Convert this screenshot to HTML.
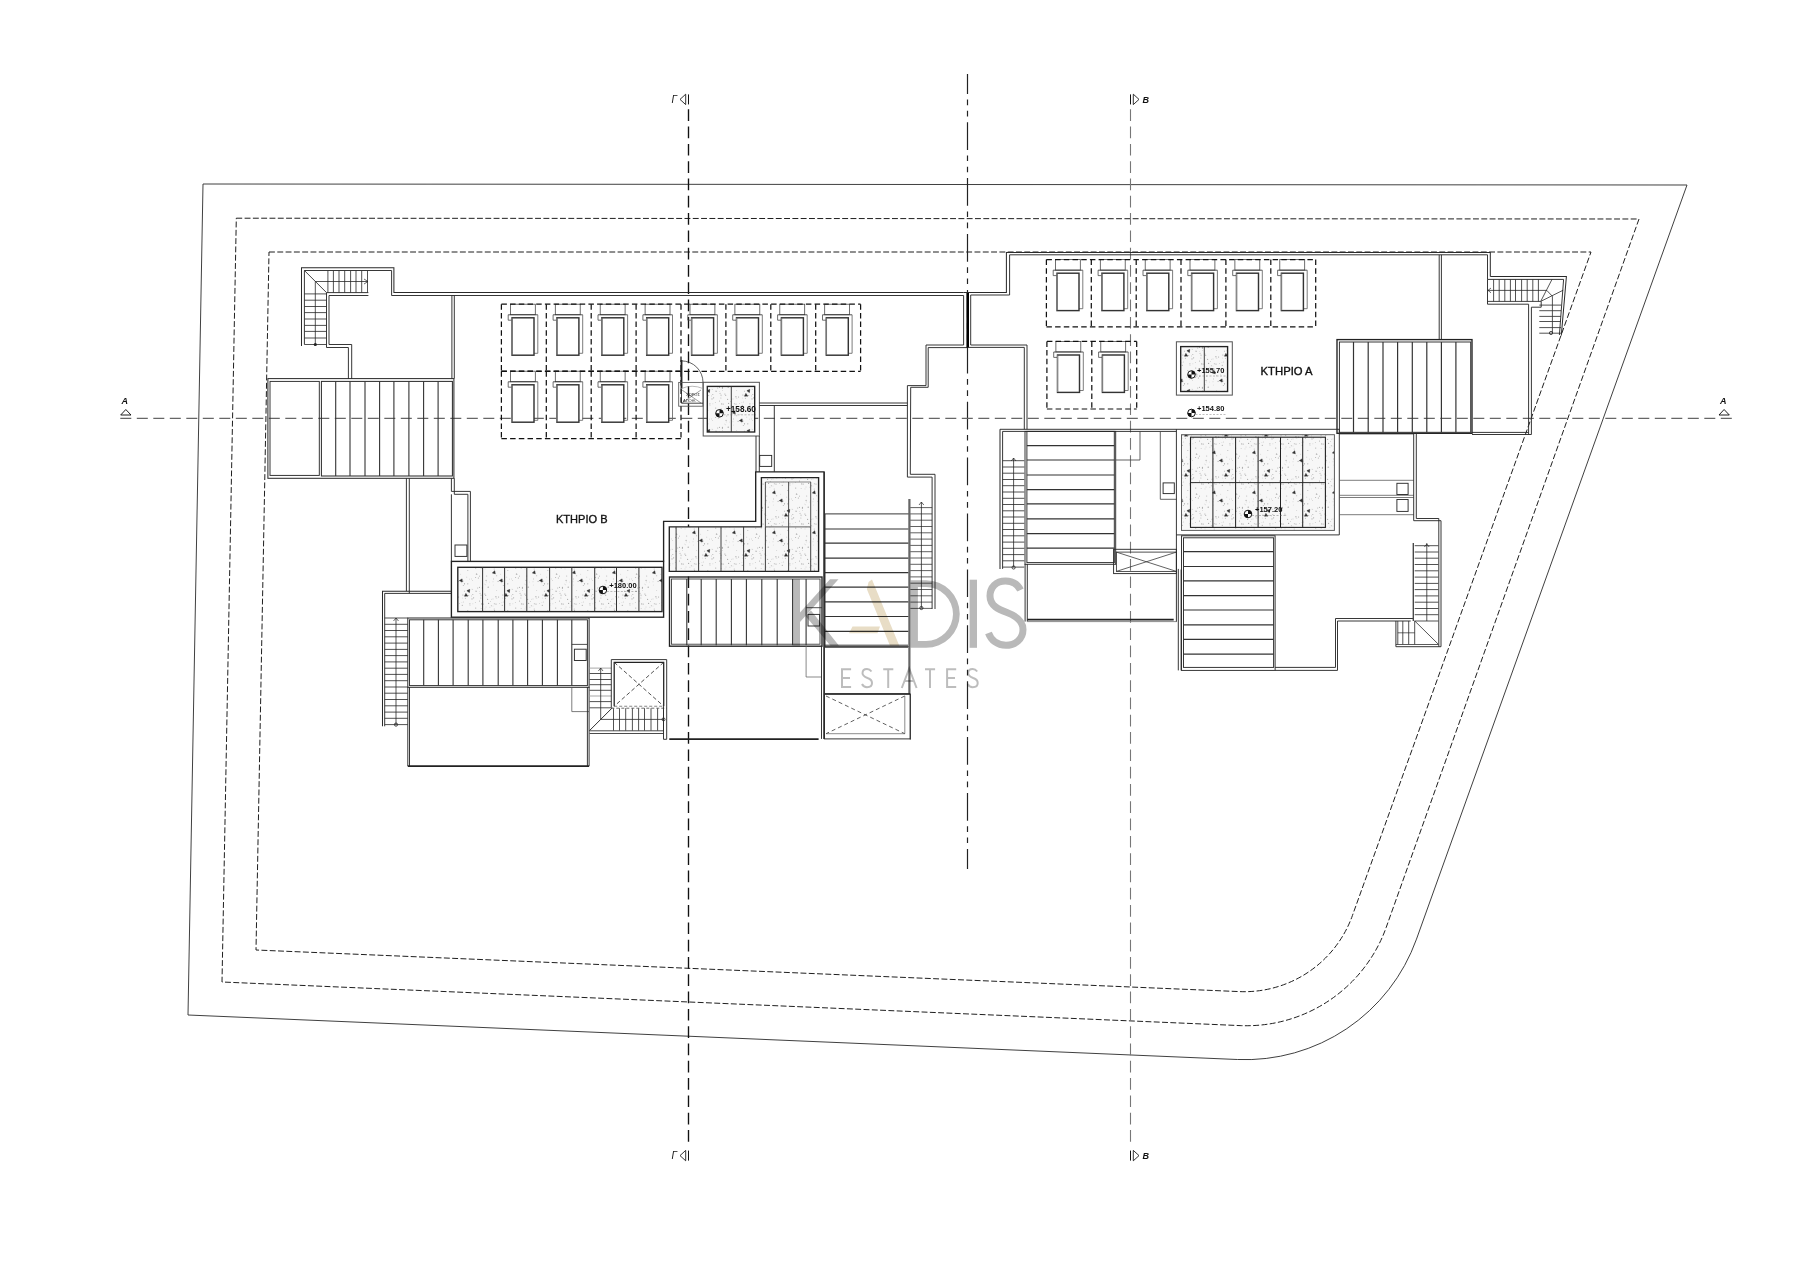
<!DOCTYPE html>
<html><head><meta charset="utf-8"><style>
html,body{margin:0;padding:0;background:#fff;width:1819px;height:1270px;overflow:hidden}
svg{display:block;font-family:"Liberation Sans",sans-serif}
</style></head><body>
<svg width="1819" height="1270" viewBox="0 0 1819 1270">
<rect width="1819" height="1270" fill="#fff"/>
<path d="M203,184 L1687,185 L1416.5,939.1 A182,182 0 0 1 1237.4,1059.5 L188,1015 Z" fill="none" stroke="#333" stroke-width="0.94"/>
<path d="M236.3,218.2 L1639,219 L1386.3,927.1 A148.5,148.5 0 0 1 1240.1,1025.6 L222,982 Z" fill="none" stroke="#1a1a1a" stroke-width="0.98" stroke-dasharray="5.9 2.4"/>
<path d="M269,252 L1591,252 L1352.4,915.6 A115,115 0 0 1 1239.4,991.6 L256,950 Z" fill="none" stroke="#1a1a1a" stroke-width="0.98" stroke-dasharray="5.9 2.4"/>
<line x1="688.5" y1="109.3" x2="688.5" y2="1147.0" stroke="#111" stroke-width="1.36" stroke-dasharray="11.7 5.6"/>
<line x1="1130.5" y1="109.3" x2="1130.5" y2="1147.0" stroke="#777" stroke-width="1.10" stroke-dasharray="11.7 5.6"/>
<line x1="967.5" y1="74.0" x2="967.5" y2="869.0" stroke="#222" stroke-width="1.19" stroke-dasharray="27.7 5.6 5.6 5.6 5.6 5.8" stroke-dashoffset="7.7"/>
<line x1="120.3" y1="418.3" x2="1732.0" y2="418.3" stroke="#666" stroke-width="1.27" stroke-dasharray="11 5.5"/>
<polyline points="301.5,346.0 301.5,267.8 393.9,267.8 393.9,292.6 963.6,292.6" fill="none" stroke="#2a2a2a" stroke-width="1.02"/>
<polyline points="304.4,344.5 304.4,270.5 391.6,270.5 391.6,295.5 963.6,295.5 963.6,345.0 926.0,345.0 926.0,385.6 907.4,385.6 907.4,477.1 932.1,477.1 932.1,609.0" fill="none" stroke="#2a2a2a" stroke-width="0.94"/>
<polyline points="967.0,347.6 928.2,347.6 928.2,387.3 910.7,387.3 910.3,474.3 935.0,474.3 935.0,609.0" fill="none" stroke="#2a2a2a" stroke-width="0.94"/>
<line x1="967.7" y1="292.0" x2="967.7" y2="347.6" stroke="#000" stroke-width="2.55"/>
<line x1="327.9" y1="270.5" x2="327.9" y2="292.6" stroke="#333" stroke-width="0.85"/>
<line x1="333.4" y1="270.5" x2="333.4" y2="292.6" stroke="#333" stroke-width="0.85"/>
<line x1="339.0" y1="270.5" x2="339.0" y2="292.6" stroke="#333" stroke-width="0.85"/>
<line x1="344.7" y1="270.5" x2="344.7" y2="292.6" stroke="#333" stroke-width="0.85"/>
<line x1="350.6" y1="270.5" x2="350.6" y2="292.6" stroke="#333" stroke-width="0.85"/>
<line x1="356.0" y1="270.5" x2="356.0" y2="292.6" stroke="#333" stroke-width="0.85"/>
<line x1="361.7" y1="270.5" x2="361.7" y2="292.6" stroke="#333" stroke-width="0.85"/>
<line x1="367.5" y1="270.5" x2="367.5" y2="292.6" stroke="#333" stroke-width="0.85"/>
<line x1="304.4" y1="270.5" x2="326.5" y2="292.6" stroke="#222" stroke-width="0.85"/>
<line x1="315.3" y1="281.5" x2="368.0" y2="281.5" stroke="#222" stroke-width="0.77"/>
<path d="M364,279 L368,281.5 L364,284" fill="none" stroke="#222" stroke-width="0.68"/>
<line x1="304.4" y1="293.9" x2="326.5" y2="293.9" stroke="#333" stroke-width="0.85"/>
<line x1="304.4" y1="300.2" x2="326.5" y2="300.2" stroke="#333" stroke-width="0.85"/>
<line x1="304.4" y1="306.5" x2="326.5" y2="306.5" stroke="#333" stroke-width="0.85"/>
<line x1="304.4" y1="312.6" x2="326.5" y2="312.6" stroke="#333" stroke-width="0.85"/>
<line x1="304.4" y1="319.0" x2="326.5" y2="319.0" stroke="#333" stroke-width="0.85"/>
<line x1="304.4" y1="325.4" x2="326.5" y2="325.4" stroke="#333" stroke-width="0.85"/>
<line x1="304.4" y1="331.4" x2="326.5" y2="331.4" stroke="#333" stroke-width="0.85"/>
<line x1="304.4" y1="338.0" x2="326.5" y2="338.0" stroke="#333" stroke-width="0.85"/>
<line x1="304.4" y1="344.5" x2="326.5" y2="344.5" stroke="#333" stroke-width="0.85"/>
<line x1="315.3" y1="281.5" x2="315.3" y2="344.5" stroke="#222" stroke-width="0.77"/>
<circle cx="315.3" cy="344.5" r="1.6" fill="#222"/>
<polyline points="368.4,292.6 326.5,292.6 326.5,347.5 348.4,347.5 348.4,379.0" fill="none" stroke="#2a2a2a" stroke-width="0.94"/>
<polyline points="368.4,295.5 329.0,295.5 329.0,344.5 351.7,344.5 351.7,379.0" fill="none" stroke="#2a2a2a" stroke-width="0.94"/>
<line x1="451.9" y1="295.5" x2="451.9" y2="378.6" stroke="#2a2a2a" stroke-width="0.94"/>
<line x1="454.3" y1="295.5" x2="454.3" y2="378.6" stroke="#2a2a2a" stroke-width="0.94"/>
<rect x="267.9" y="378.6" width="186.0" height="99.7" fill="none" stroke="#2a2a2a" stroke-width="1.02"/>
<rect x="270.0" y="381.4" width="49.3" height="94.0" fill="none" stroke="#2a2a2a" stroke-width="0.94"/>
<rect x="321.4" y="381.4" width="131.0" height="94.6" fill="none" stroke="#2a2a2a" stroke-width="1.02"/>
<line x1="335.7" y1="381.4" x2="335.7" y2="476.0" stroke="#333" stroke-width="1.10"/>
<line x1="350.0" y1="381.4" x2="350.0" y2="476.0" stroke="#333" stroke-width="1.10"/>
<line x1="365.0" y1="381.4" x2="365.0" y2="476.0" stroke="#333" stroke-width="1.10"/>
<line x1="379.6" y1="381.4" x2="379.6" y2="476.0" stroke="#333" stroke-width="1.10"/>
<line x1="393.9" y1="381.4" x2="393.9" y2="476.0" stroke="#333" stroke-width="1.10"/>
<line x1="408.9" y1="381.4" x2="408.9" y2="476.0" stroke="#333" stroke-width="1.10"/>
<line x1="423.6" y1="381.4" x2="423.6" y2="476.0" stroke="#333" stroke-width="1.10"/>
<line x1="438.1" y1="381.4" x2="438.1" y2="476.0" stroke="#333" stroke-width="1.10"/>
<line x1="406.4" y1="478.3" x2="406.4" y2="591.2" stroke="#2a2a2a" stroke-width="0.94"/>
<line x1="409.3" y1="478.3" x2="409.3" y2="593.4" stroke="#2a2a2a" stroke-width="0.94"/>
<polyline points="451.4,478.3 451.4,491.4 470.4,491.4 470.4,561.4" fill="none" stroke="#2a2a2a" stroke-width="0.94"/>
<polyline points="454.3,478.3 454.3,494.3 467.9,494.3 467.9,561.4" fill="none" stroke="#2a2a2a" stroke-width="0.94"/>
<line x1="451.4" y1="494.3" x2="451.4" y2="561.4" stroke="#2a2a2a" stroke-width="0.94"/>
<rect x="455.0" y="545.0" width="11.9" height="11.4" fill="none" stroke="#2a2a2a" stroke-width="0.94"/>
<rect x="510.4" y="304.2" width="24.9" height="10.5" fill="none" stroke="#444" stroke-width="0.77"/>
<line x1="508.2" y1="314.8" x2="537.8" y2="314.8" stroke="#333" stroke-width="0.85"/>
<polyline points="508.2,314.8 508.2,320.2 512.0,320.2" fill="none" stroke="#444" stroke-width="0.77"/>
<polyline points="537.8,314.8 537.8,353.3 534.0,353.3" fill="none" stroke="#666" stroke-width="0.85"/>
<rect x="512.0" y="317.8" width="22.0" height="37.4" fill="#fff" stroke="#333" stroke-width="1.44"/>
<line x1="512.0" y1="318.2" x2="512.0" y2="354.8" stroke="#888" stroke-width="1.02"/>
<rect x="555.3" y="304.2" width="24.9" height="10.5" fill="none" stroke="#444" stroke-width="0.77"/>
<line x1="553.1" y1="314.8" x2="582.7" y2="314.8" stroke="#333" stroke-width="0.85"/>
<polyline points="553.1,314.8 553.1,320.2 556.9,320.2" fill="none" stroke="#444" stroke-width="0.77"/>
<polyline points="582.7,314.8 582.7,353.3 578.9,353.3" fill="none" stroke="#666" stroke-width="0.85"/>
<rect x="556.9" y="317.8" width="22.0" height="37.4" fill="#fff" stroke="#333" stroke-width="1.44"/>
<line x1="556.9" y1="318.2" x2="556.9" y2="354.8" stroke="#888" stroke-width="1.02"/>
<rect x="600.2" y="304.2" width="24.9" height="10.5" fill="none" stroke="#444" stroke-width="0.77"/>
<line x1="598.0" y1="314.8" x2="627.6" y2="314.8" stroke="#333" stroke-width="0.85"/>
<polyline points="598.0,314.8 598.0,320.2 601.8,320.2" fill="none" stroke="#444" stroke-width="0.77"/>
<polyline points="627.6,314.8 627.6,353.3 623.8,353.3" fill="none" stroke="#666" stroke-width="0.85"/>
<rect x="601.8" y="317.8" width="22.0" height="37.4" fill="#fff" stroke="#333" stroke-width="1.44"/>
<line x1="601.8" y1="318.2" x2="601.8" y2="354.8" stroke="#888" stroke-width="1.02"/>
<rect x="645.1" y="304.2" width="24.9" height="10.5" fill="none" stroke="#444" stroke-width="0.77"/>
<line x1="642.9" y1="314.8" x2="672.5" y2="314.8" stroke="#333" stroke-width="0.85"/>
<polyline points="642.9,314.8 642.9,320.2 646.7,320.2" fill="none" stroke="#444" stroke-width="0.77"/>
<polyline points="672.5,314.8 672.5,353.3 668.7,353.3" fill="none" stroke="#666" stroke-width="0.85"/>
<rect x="646.7" y="317.8" width="22.0" height="37.4" fill="#fff" stroke="#333" stroke-width="1.44"/>
<line x1="646.7" y1="318.2" x2="646.7" y2="354.8" stroke="#888" stroke-width="1.02"/>
<rect x="690.0" y="304.2" width="24.9" height="10.5" fill="none" stroke="#444" stroke-width="0.77"/>
<line x1="687.8" y1="314.8" x2="717.4" y2="314.8" stroke="#333" stroke-width="0.85"/>
<polyline points="687.8,314.8 687.8,320.2 691.6,320.2" fill="none" stroke="#444" stroke-width="0.77"/>
<polyline points="717.4,314.8 717.4,353.3 713.6,353.3" fill="none" stroke="#666" stroke-width="0.85"/>
<rect x="691.6" y="317.8" width="22.0" height="37.4" fill="#fff" stroke="#333" stroke-width="1.44"/>
<line x1="691.6" y1="318.2" x2="691.6" y2="354.8" stroke="#888" stroke-width="1.02"/>
<rect x="734.9" y="304.2" width="24.9" height="10.5" fill="none" stroke="#444" stroke-width="0.77"/>
<line x1="732.7" y1="314.8" x2="762.3" y2="314.8" stroke="#333" stroke-width="0.85"/>
<polyline points="732.7,314.8 732.7,320.2 736.5,320.2" fill="none" stroke="#444" stroke-width="0.77"/>
<polyline points="762.3,314.8 762.3,353.3 758.5,353.3" fill="none" stroke="#666" stroke-width="0.85"/>
<rect x="736.5" y="317.8" width="22.0" height="37.4" fill="#fff" stroke="#333" stroke-width="1.44"/>
<line x1="736.5" y1="318.2" x2="736.5" y2="354.8" stroke="#888" stroke-width="1.02"/>
<rect x="779.8" y="304.2" width="24.9" height="10.5" fill="none" stroke="#444" stroke-width="0.77"/>
<line x1="777.6" y1="314.8" x2="807.2" y2="314.8" stroke="#333" stroke-width="0.85"/>
<polyline points="777.6,314.8 777.6,320.2 781.4,320.2" fill="none" stroke="#444" stroke-width="0.77"/>
<polyline points="807.2,314.8 807.2,353.3 803.4,353.3" fill="none" stroke="#666" stroke-width="0.85"/>
<rect x="781.4" y="317.8" width="22.0" height="37.4" fill="#fff" stroke="#333" stroke-width="1.44"/>
<line x1="781.4" y1="318.2" x2="781.4" y2="354.8" stroke="#888" stroke-width="1.02"/>
<rect x="824.7" y="304.2" width="24.9" height="10.5" fill="none" stroke="#444" stroke-width="0.77"/>
<line x1="822.5" y1="314.8" x2="852.1" y2="314.8" stroke="#333" stroke-width="0.85"/>
<polyline points="822.5,314.8 822.5,320.2 826.3,320.2" fill="none" stroke="#444" stroke-width="0.77"/>
<polyline points="852.1,314.8 852.1,353.3 848.3,353.3" fill="none" stroke="#666" stroke-width="0.85"/>
<rect x="826.3" y="317.8" width="22.0" height="37.4" fill="#fff" stroke="#333" stroke-width="1.44"/>
<line x1="826.3" y1="318.2" x2="826.3" y2="354.8" stroke="#888" stroke-width="1.02"/>
<line x1="501.4" y1="304.2" x2="501.4" y2="371.3" stroke="#111" stroke-width="1.23" stroke-dasharray="5.5 3.2"/>
<line x1="546.3" y1="304.2" x2="546.3" y2="371.3" stroke="#111" stroke-width="1.23" stroke-dasharray="5.5 3.2"/>
<line x1="591.2" y1="304.2" x2="591.2" y2="371.3" stroke="#111" stroke-width="1.23" stroke-dasharray="5.5 3.2"/>
<line x1="636.1" y1="304.2" x2="636.1" y2="371.3" stroke="#111" stroke-width="1.23" stroke-dasharray="5.5 3.2"/>
<line x1="681.0" y1="304.2" x2="681.0" y2="371.3" stroke="#111" stroke-width="1.23" stroke-dasharray="5.5 3.2"/>
<line x1="725.9" y1="304.2" x2="725.9" y2="371.3" stroke="#111" stroke-width="1.23" stroke-dasharray="5.5 3.2"/>
<line x1="770.8" y1="304.2" x2="770.8" y2="371.3" stroke="#111" stroke-width="1.23" stroke-dasharray="5.5 3.2"/>
<line x1="815.7" y1="304.2" x2="815.7" y2="371.3" stroke="#111" stroke-width="1.23" stroke-dasharray="5.5 3.2"/>
<line x1="860.6" y1="304.2" x2="860.6" y2="371.3" stroke="#111" stroke-width="1.23" stroke-dasharray="5.5 3.2"/>
<line x1="501.4" y1="304.2" x2="860.6" y2="304.2" stroke="#111" stroke-width="1.23" stroke-dasharray="5.5 3.2"/>
<line x1="501.4" y1="371.3" x2="860.6" y2="371.3" stroke="#111" stroke-width="1.23" stroke-dasharray="5.5 3.2"/>
<rect x="510.4" y="371.2" width="24.9" height="10.5" fill="none" stroke="#444" stroke-width="0.77"/>
<line x1="508.2" y1="381.8" x2="537.8" y2="381.8" stroke="#333" stroke-width="0.85"/>
<polyline points="508.2,381.8 508.2,387.2 512.0,387.2" fill="none" stroke="#444" stroke-width="0.77"/>
<polyline points="537.8,381.8 537.8,420.3 534.0,420.3" fill="none" stroke="#666" stroke-width="0.85"/>
<rect x="512.0" y="384.8" width="22.0" height="37.4" fill="#fff" stroke="#333" stroke-width="1.44"/>
<line x1="512.0" y1="385.2" x2="512.0" y2="421.8" stroke="#888" stroke-width="1.02"/>
<rect x="555.3" y="371.2" width="24.9" height="10.5" fill="none" stroke="#444" stroke-width="0.77"/>
<line x1="553.1" y1="381.8" x2="582.7" y2="381.8" stroke="#333" stroke-width="0.85"/>
<polyline points="553.1,381.8 553.1,387.2 556.9,387.2" fill="none" stroke="#444" stroke-width="0.77"/>
<polyline points="582.7,381.8 582.7,420.3 578.9,420.3" fill="none" stroke="#666" stroke-width="0.85"/>
<rect x="556.9" y="384.8" width="22.0" height="37.4" fill="#fff" stroke="#333" stroke-width="1.44"/>
<line x1="556.9" y1="385.2" x2="556.9" y2="421.8" stroke="#888" stroke-width="1.02"/>
<rect x="600.2" y="371.2" width="24.9" height="10.5" fill="none" stroke="#444" stroke-width="0.77"/>
<line x1="598.0" y1="381.8" x2="627.6" y2="381.8" stroke="#333" stroke-width="0.85"/>
<polyline points="598.0,381.8 598.0,387.2 601.8,387.2" fill="none" stroke="#444" stroke-width="0.77"/>
<polyline points="627.6,381.8 627.6,420.3 623.8,420.3" fill="none" stroke="#666" stroke-width="0.85"/>
<rect x="601.8" y="384.8" width="22.0" height="37.4" fill="#fff" stroke="#333" stroke-width="1.44"/>
<line x1="601.8" y1="385.2" x2="601.8" y2="421.8" stroke="#888" stroke-width="1.02"/>
<rect x="645.1" y="371.2" width="24.9" height="10.5" fill="none" stroke="#444" stroke-width="0.77"/>
<line x1="642.9" y1="381.8" x2="672.5" y2="381.8" stroke="#333" stroke-width="0.85"/>
<polyline points="642.9,381.8 642.9,387.2 646.7,387.2" fill="none" stroke="#444" stroke-width="0.77"/>
<polyline points="672.5,381.8 672.5,420.3 668.7,420.3" fill="none" stroke="#666" stroke-width="0.85"/>
<rect x="646.7" y="384.8" width="22.0" height="37.4" fill="#fff" stroke="#333" stroke-width="1.44"/>
<line x1="646.7" y1="385.2" x2="646.7" y2="421.8" stroke="#888" stroke-width="1.02"/>
<line x1="501.4" y1="371.2" x2="501.4" y2="438.6" stroke="#111" stroke-width="1.23" stroke-dasharray="5.5 3.2"/>
<line x1="546.3" y1="371.2" x2="546.3" y2="438.6" stroke="#111" stroke-width="1.23" stroke-dasharray="5.5 3.2"/>
<line x1="591.2" y1="371.2" x2="591.2" y2="438.6" stroke="#111" stroke-width="1.23" stroke-dasharray="5.5 3.2"/>
<line x1="636.1" y1="371.2" x2="636.1" y2="438.6" stroke="#111" stroke-width="1.23" stroke-dasharray="5.5 3.2"/>
<line x1="681.0" y1="371.2" x2="681.0" y2="438.6" stroke="#111" stroke-width="1.23" stroke-dasharray="5.5 3.2"/>
<line x1="501.4" y1="371.2" x2="681.0" y2="371.2" stroke="#111" stroke-width="1.23" stroke-dasharray="5.5 3.2"/>
<line x1="501.4" y1="438.6" x2="681.0" y2="438.6" stroke="#111" stroke-width="1.23" stroke-dasharray="5.5 3.2"/>
<text x="556" y="523" font-size="11.2" fill="#111" text-anchor="start" style="stroke:#111;stroke-width:0.35" textLength="51.5" lengthAdjust="spacingAndGlyphs">KTHPIO B</text>
<defs><pattern id="spk" width="40" height="40" patternUnits="userSpaceOnUse">
<rect width="40" height="40" fill="#f7f7f7"/>
<circle cx="13.0" cy="6.0" r="0.35" fill="#aaa"/>
<circle cx="32.9" cy="3.8" r="0.35" fill="#aaa"/>
<circle cx="8.6" cy="3.4" r="0.6" fill="#aaa"/>
<circle cx="9.6" cy="22.0" r="0.35" fill="#aaa"/>
<circle cx="5.0" cy="8.9" r="0.35" fill="#aaa"/>
<circle cx="23.4" cy="2.0" r="0.4" fill="#aaa"/>
<circle cx="22.3" cy="5.3" r="0.6" fill="#b0b0b0"/>
<circle cx="21.6" cy="22.8" r="0.4" fill="#aaa"/>
<circle cx="23.3" cy="25.6" r="0.5" fill="#aaa"/>
<circle cx="21.9" cy="2.5" r="0.35" fill="#aaa"/>
<circle cx="8.2" cy="27.2" r="0.6" fill="#999"/>
<circle cx="18.6" cy="36.9" r="0.5" fill="#999"/>
<circle cx="9.9" cy="7.2" r="0.4" fill="#aaa"/>
<circle cx="23.0" cy="21.0" r="0.5" fill="#aaa"/>
<circle cx="11.5" cy="39.2" r="0.35" fill="#aaa"/>
<circle cx="16.7" cy="30.3" r="0.4" fill="#aaa"/>
<circle cx="16.9" cy="38.5" r="0.35" fill="#aaa"/>
<circle cx="22.9" cy="35.0" r="0.5" fill="#999"/>
<circle cx="27.8" cy="23.8" r="0.6" fill="#aaa"/>
<circle cx="33.6" cy="37.8" r="0.6" fill="#aaa"/>
<circle cx="2.4" cy="28.1" r="0.6" fill="#999"/>
<circle cx="28.7" cy="35.5" r="0.5" fill="#aaa"/>
<circle cx="37.6" cy="14.2" r="0.35" fill="#aaa"/>
<circle cx="2.4" cy="30.7" r="0.4" fill="#b0b0b0"/>
<circle cx="15.9" cy="36.7" r="0.6" fill="#aaa"/>
<circle cx="6.7" cy="16.1" r="0.5" fill="#b0b0b0"/>
<circle cx="32.8" cy="34.6" r="0.5" fill="#aaa"/>
<circle cx="39.5" cy="27.3" r="0.6" fill="#b0b0b0"/>
<circle cx="6.0" cy="7.0" r="0.4" fill="#b0b0b0"/>
<circle cx="0.5" cy="33.2" r="0.4" fill="#999"/>
<circle cx="11.3" cy="5.8" r="0.5" fill="#aaa"/>
<circle cx="22.7" cy="38.1" r="0.35" fill="#aaa"/>
<circle cx="36.0" cy="31.2" r="0.6" fill="#aaa"/>
<circle cx="16.0" cy="4.1" r="0.6" fill="#aaa"/>
<circle cx="7.6" cy="39.4" r="0.6" fill="#b0b0b0"/>
<circle cx="4.4" cy="24.0" r="0.35" fill="#aaa"/>
<circle cx="22.7" cy="21.5" r="0.5" fill="#aaa"/>
<circle cx="1.0" cy="35.0" r="0.6" fill="#b0b0b0"/>
<circle cx="25.4" cy="38.2" r="0.5" fill="#aaa"/>
<circle cx="4.9" cy="34.0" r="0.6" fill="#aaa"/>
<circle cx="19.4" cy="3.4" r="0.35" fill="#999"/>
<circle cx="29.6" cy="19.1" r="0.4" fill="#aaa"/>
<circle cx="0.9" cy="38.0" r="0.5" fill="#b0b0b0"/>
<circle cx="27.6" cy="36.6" r="0.5" fill="#aaa"/>
<circle cx="27.8" cy="10.4" r="0.5" fill="#b0b0b0"/>
<circle cx="14.2" cy="8.9" r="0.5" fill="#b0b0b0"/>
<circle cx="24.5" cy="31.5" r="0.4" fill="#b0b0b0"/>
<circle cx="32.7" cy="29.6" r="0.4" fill="#b0b0b0"/>
<circle cx="20.7" cy="14.2" r="0.35" fill="#aaa"/>
<circle cx="31.6" cy="18.9" r="0.4" fill="#aaa"/>
<circle cx="38.3" cy="17.9" r="0.5" fill="#999"/>
<circle cx="3.2" cy="4.1" r="0.6" fill="#b0b0b0"/>
<circle cx="13.5" cy="19.3" r="0.35" fill="#aaa"/>
<circle cx="36.4" cy="13.8" r="0.35" fill="#aaa"/>
<circle cx="36.4" cy="31.3" r="0.4" fill="#aaa"/>
<circle cx="35.6" cy="17.4" r="0.5" fill="#aaa"/>
<circle cx="32.0" cy="38.9" r="0.6" fill="#aaa"/>
<circle cx="16.1" cy="37.9" r="0.4" fill="#b0b0b0"/>
<circle cx="39.7" cy="1.1" r="0.6" fill="#b0b0b0"/>
<circle cx="24.5" cy="23.8" r="0.6" fill="#999"/>
<circle cx="6.2" cy="21.9" r="0.35" fill="#aaa"/>
<circle cx="32.0" cy="29.1" r="0.35" fill="#aaa"/>
<circle cx="30.0" cy="5.6" r="0.4" fill="#b0b0b0"/>
<circle cx="1.1" cy="8.5" r="0.4" fill="#aaa"/>
<circle cx="13.0" cy="21.8" r="0.4" fill="#aaa"/>
<circle cx="36.4" cy="14.2" r="0.6" fill="#aaa"/>
<circle cx="32.6" cy="20.7" r="0.4" fill="#aaa"/>
<circle cx="6.1" cy="20.4" r="0.6" fill="#b0b0b0"/>
<circle cx="24.3" cy="31.0" r="0.4" fill="#b0b0b0"/>
<circle cx="5.7" cy="24.8" r="0.35" fill="#aaa"/>
<circle cx="2.5" cy="27.3" r="0.6" fill="#aaa"/>
<circle cx="35.3" cy="2.3" r="0.4" fill="#999"/>
<circle cx="1.7" cy="3.9" r="0.6" fill="#aaa"/>
<circle cx="1.1" cy="35.8" r="0.35" fill="#aaa"/>
<circle cx="13.0" cy="38.9" r="0.4" fill="#999"/>
<circle cx="18.1" cy="21.3" r="0.6" fill="#aaa"/>
<circle cx="37.7" cy="28.0" r="0.5" fill="#aaa"/>
<circle cx="35.7" cy="8.1" r="0.6" fill="#b0b0b0"/>
<circle cx="16.7" cy="15.7" r="0.5" fill="#aaa"/>
<circle cx="26.8" cy="17.1" r="0.4" fill="#999"/>
<circle cx="31.4" cy="35.9" r="0.4" fill="#999"/>
<circle cx="5.7" cy="35.3" r="0.6" fill="#b0b0b0"/>
<circle cx="29.9" cy="3.8" r="0.6" fill="#b0b0b0"/>
<circle cx="39.6" cy="33.3" r="0.4" fill="#aaa"/>
<circle cx="39.8" cy="16.2" r="0.6" fill="#b0b0b0"/>
<circle cx="14.3" cy="3.7" r="0.5" fill="#aaa"/>
<circle cx="13.5" cy="18.3" r="0.35" fill="#aaa"/>
<circle cx="13.3" cy="25.0" r="0.35" fill="#aaa"/>
<circle cx="39.4" cy="31.5" r="0.35" fill="#aaa"/>
<circle cx="10.6" cy="1.6" r="0.4" fill="#999"/>
<polygon points="29.7,29.4 29.4,32.5 26.9,30.7" fill="#333" stroke="#222" stroke-width="0.5"/>
<polygon points="24.5,36.2 25.9,33.4 27.6,36.0" fill="#333" stroke="#222" stroke-width="0.5"/>
<polygon points="19.4,20.6 22.1,18.9 22.2,22.0" fill="#333" stroke="#222" stroke-width="0.5"/>
<polygon points="14.7,10.8 15.3,13.8 12.4,12.9" fill="#333" stroke="#222" stroke-width="0.5"/>
</pattern></defs>
<rect x="451.4" y="561.4" width="212.2" height="55.8" fill="none" stroke="#222" stroke-width="1.36"/>
<rect x="457.8" y="567.3" width="204.2" height="44.3" fill="url(#spk)" stroke="#222" stroke-width="1.36"/>
<line x1="482.6" y1="567.3" x2="482.6" y2="611.6" stroke="#333" stroke-width="1.02"/>
<line x1="504.6" y1="567.3" x2="504.6" y2="611.6" stroke="#333" stroke-width="1.02"/>
<line x1="526.8" y1="567.3" x2="526.8" y2="611.6" stroke="#333" stroke-width="1.02"/>
<line x1="549.6" y1="567.3" x2="549.6" y2="611.6" stroke="#333" stroke-width="1.02"/>
<line x1="571.8" y1="567.3" x2="571.8" y2="611.6" stroke="#333" stroke-width="1.02"/>
<line x1="594.7" y1="567.3" x2="594.7" y2="611.6" stroke="#333" stroke-width="1.02"/>
<line x1="616.5" y1="567.3" x2="616.5" y2="611.6" stroke="#333" stroke-width="1.02"/>
<line x1="638.9" y1="567.3" x2="638.9" y2="611.6" stroke="#333" stroke-width="1.02"/>
<polyline points="663.6,561.4 663.6,521.4 755.7,521.4 755.7,471.9 824.0,471.9 824.0,739.0" fill="none" stroke="#222" stroke-width="1.36"/>
<path d="M669.3,526.9 L761.4,526.9 L761.4,477.6 L818.6,477.6 L818.6,571.4 L669.3,571.4 Z" fill="url(#spk)" stroke="#222" stroke-width="1.36"/>
<line x1="676.1" y1="526.9" x2="676.1" y2="571.4" stroke="#333" stroke-width="0.94"/>
<line x1="698.6" y1="526.9" x2="698.6" y2="571.4" stroke="#333" stroke-width="0.94"/>
<line x1="721.0" y1="526.9" x2="721.0" y2="571.4" stroke="#333" stroke-width="0.94"/>
<line x1="743.6" y1="526.9" x2="743.6" y2="571.4" stroke="#333" stroke-width="0.94"/>
<line x1="765.4" y1="526.9" x2="765.4" y2="571.4" stroke="#333" stroke-width="0.94"/>
<line x1="788.6" y1="526.9" x2="788.6" y2="571.4" stroke="#333" stroke-width="0.94"/>
<line x1="810.7" y1="526.9" x2="810.7" y2="571.4" stroke="#333" stroke-width="0.94"/>
<line x1="765.4" y1="482.0" x2="810.7" y2="482.0" stroke="#666" stroke-width="0.77"/>
<line x1="765.4" y1="482.0" x2="765.4" y2="526.9" stroke="#333" stroke-width="0.85"/>
<line x1="788.6" y1="482.0" x2="788.6" y2="526.9" stroke="#333" stroke-width="0.85"/>
<line x1="810.7" y1="482.0" x2="810.7" y2="526.9" stroke="#333" stroke-width="0.85"/>
<line x1="765.4" y1="526.9" x2="810.7" y2="526.9" stroke="#333" stroke-width="0.77"/>
<rect x="703.2" y="382.3" width="56.2" height="53.7" fill="none" stroke="#555" stroke-width="1.02"/>
<rect x="707.3" y="386.4" width="47.4" height="45.6" fill="url(#spk)" stroke="#222" stroke-width="1.36"/>
<line x1="731.3" y1="386.4" x2="731.3" y2="432.0" stroke="#333" stroke-width="0.94"/>
<circle cx="719.5" cy="413.3" r="3.8" fill="#fff" stroke="#111" stroke-width="1"/>
<path d="M719.5,413.3 L719.5,409.5 A3.8,3.8 0 0 1 723.3,413.3 Z M719.5,413.3 L719.5,417.1 A3.8,3.8 0 0 1 715.7,413.3 Z" fill="#111"/>
<text x="726" y="411.7" font-size="8.2" fill="#111" text-anchor="start" style="font-weight:bold" >+158.60</text>
<line x1="723.5" y1="414.8" x2="756.0" y2="414.8" stroke="#666" stroke-width="0.42" stroke-dasharray="2 1.5"/>
<line x1="759.4" y1="403.0" x2="907.4" y2="403.0" stroke="#2a2a2a" stroke-width="0.94"/>
<line x1="759.4" y1="405.5" x2="907.4" y2="405.5" stroke="#2a2a2a" stroke-width="0.94"/>
<line x1="756.0" y1="436.0" x2="756.0" y2="471.9" stroke="#2a2a2a" stroke-width="0.94"/>
<line x1="759.3" y1="436.0" x2="759.3" y2="471.9" stroke="#2a2a2a" stroke-width="0.94"/>
<line x1="774.3" y1="405.5" x2="774.3" y2="471.9" stroke="#2a2a2a" stroke-width="0.94"/>
<rect x="759.7" y="455.4" width="12.0" height="11.0" fill="none" stroke="#2a2a2a" stroke-width="0.94"/>
<path d="M681.5,360.9 A21.5,21.5 0 0 1 703,382.4" fill="none" stroke="#333" stroke-width="0.77"/>
<line x1="681.5" y1="360.0" x2="681.5" y2="388.5" stroke="#222" stroke-width="1.87"/>
<rect x="678.7" y="382.4" width="24.3" height="23.8" fill="none" stroke="#555" stroke-width="0.85"/>
<polyline points="681.5,388.5 681.5,403.2 703.0,403.2" fill="none" stroke="#222" stroke-width="0.85"/>
<path d="M681.5,388.5 Q692,384 703,388.5" fill="none" stroke="#999" stroke-width="0.68"/>
<line x1="682.0" y1="390.0" x2="701.0" y2="403.0" stroke="#444" stroke-width="0.51"/>
<line x1="701.0" y1="390.0" x2="682.0" y2="403.0" stroke="#444" stroke-width="0.51"/>
<text x="686" y="396" font-size="4" fill="#222" text-anchor="start" style="" >ΧΩΡΟΣ</text>
<text x="683" y="401.5" font-size="4" fill="#222" text-anchor="start" style="" >ΑΠΟΘ.</text>
<polyline points="451.4,591.2 382.5,591.2 382.5,726.3" fill="none" stroke="#2a2a2a" stroke-width="1.02"/>
<polyline points="451.4,593.4 384.7,593.4 384.7,726.3" fill="none" stroke="#2a2a2a" stroke-width="0.94"/>
<line x1="384.7" y1="618.0" x2="407.8" y2="618.0" stroke="#333" stroke-width="0.85"/>
<line x1="384.7" y1="624.3" x2="407.8" y2="624.3" stroke="#333" stroke-width="0.85"/>
<line x1="384.7" y1="630.5" x2="407.8" y2="630.5" stroke="#333" stroke-width="0.85"/>
<line x1="384.7" y1="636.8" x2="407.8" y2="636.8" stroke="#333" stroke-width="0.85"/>
<line x1="384.7" y1="643.1" x2="407.8" y2="643.1" stroke="#333" stroke-width="0.85"/>
<line x1="384.7" y1="649.4" x2="407.8" y2="649.4" stroke="#333" stroke-width="0.85"/>
<line x1="384.7" y1="655.6" x2="407.8" y2="655.6" stroke="#333" stroke-width="0.85"/>
<line x1="384.7" y1="661.9" x2="407.8" y2="661.9" stroke="#333" stroke-width="0.85"/>
<line x1="384.7" y1="668.2" x2="407.8" y2="668.2" stroke="#333" stroke-width="0.85"/>
<line x1="384.7" y1="674.4" x2="407.8" y2="674.4" stroke="#333" stroke-width="0.85"/>
<line x1="384.7" y1="680.7" x2="407.8" y2="680.7" stroke="#333" stroke-width="0.85"/>
<line x1="384.7" y1="687.0" x2="407.8" y2="687.0" stroke="#333" stroke-width="0.85"/>
<line x1="384.7" y1="693.2" x2="407.8" y2="693.2" stroke="#333" stroke-width="0.85"/>
<line x1="384.7" y1="699.5" x2="407.8" y2="699.5" stroke="#333" stroke-width="0.85"/>
<line x1="384.7" y1="705.8" x2="407.8" y2="705.8" stroke="#333" stroke-width="0.85"/>
<line x1="384.7" y1="712.1" x2="407.8" y2="712.1" stroke="#333" stroke-width="0.85"/>
<line x1="384.7" y1="718.3" x2="407.8" y2="718.3" stroke="#333" stroke-width="0.85"/>
<line x1="384.7" y1="724.6" x2="407.8" y2="724.6" stroke="#333" stroke-width="0.85"/>
<line x1="396.0" y1="618.0" x2="396.0" y2="724.6" stroke="#222" stroke-width="0.77"/>
<circle cx="396" cy="724.6" r="1.6" fill="none" stroke="#222" stroke-width="0.8"/>
<path d="M393.5,621 L396,618 L398.5,621" fill="none" stroke="#222" stroke-width="0.68"/>
<rect x="407.8" y="618.0" width="181.3" height="69.3" fill="none" stroke="#2a2a2a" stroke-width="1.02"/>
<rect x="409.5" y="619.8" width="177.9" height="65.8" fill="none" stroke="#2a2a2a" stroke-width="0.94"/>
<line x1="423.7" y1="619.8" x2="423.7" y2="685.6" stroke="#333" stroke-width="1.10"/>
<line x1="438.4" y1="619.8" x2="438.4" y2="685.6" stroke="#333" stroke-width="1.10"/>
<line x1="453.1" y1="619.8" x2="453.1" y2="685.6" stroke="#333" stroke-width="1.10"/>
<line x1="468.2" y1="619.8" x2="468.2" y2="685.6" stroke="#333" stroke-width="1.10"/>
<line x1="482.9" y1="619.8" x2="482.9" y2="685.6" stroke="#333" stroke-width="1.10"/>
<line x1="498.2" y1="619.8" x2="498.2" y2="685.6" stroke="#333" stroke-width="1.10"/>
<line x1="512.9" y1="619.8" x2="512.9" y2="685.6" stroke="#333" stroke-width="1.10"/>
<line x1="527.6" y1="619.8" x2="527.6" y2="685.6" stroke="#333" stroke-width="1.10"/>
<line x1="542.4" y1="619.8" x2="542.4" y2="685.6" stroke="#333" stroke-width="1.10"/>
<line x1="557.4" y1="619.8" x2="557.4" y2="685.6" stroke="#333" stroke-width="1.10"/>
<line x1="571.8" y1="619.8" x2="571.8" y2="685.6" stroke="#333" stroke-width="1.10"/>
<line x1="571.8" y1="644.4" x2="587.4" y2="644.4" stroke="#333" stroke-width="0.85"/>
<rect x="574.4" y="649.2" width="11.8" height="11.3" fill="none" stroke="#2a2a2a" stroke-width="0.94"/>
<polyline points="571.8,687.3 571.8,711.6 589.0,711.6" fill="none" stroke="#555" stroke-width="0.77"/>
<line x1="407.8" y1="687.0" x2="407.8" y2="766.1" stroke="#2a2a2a" stroke-width="0.94"/>
<line x1="409.5" y1="687.0" x2="409.5" y2="766.1" stroke="#2a2a2a" stroke-width="0.94"/>
<line x1="407.8" y1="766.1" x2="589.1" y2="766.1" stroke="#222" stroke-width="1.70"/>
<line x1="587.4" y1="687.0" x2="587.4" y2="766.1" stroke="#2a2a2a" stroke-width="0.94"/>
<line x1="589.1" y1="687.0" x2="589.1" y2="766.1" stroke="#2a2a2a" stroke-width="0.94"/>
<line x1="589.6" y1="673.5" x2="611.3" y2="673.5" stroke="#333" stroke-width="0.85"/>
<line x1="589.6" y1="679.5" x2="611.3" y2="679.5" stroke="#333" stroke-width="0.85"/>
<line x1="589.6" y1="684.7" x2="611.3" y2="684.7" stroke="#333" stroke-width="0.85"/>
<line x1="589.6" y1="690.3" x2="611.3" y2="690.3" stroke="#333" stroke-width="0.85"/>
<line x1="589.6" y1="701.6" x2="611.3" y2="701.6" stroke="#333" stroke-width="0.85"/>
<line x1="589.6" y1="707.8" x2="611.3" y2="707.8" stroke="#333" stroke-width="0.85"/>
<line x1="589.6" y1="668.1" x2="611.3" y2="668.1" stroke="#aaa" stroke-width="1.02"/>
<line x1="589.6" y1="696.0" x2="611.3" y2="696.0" stroke="#aaa" stroke-width="1.02"/>
<line x1="600.7" y1="668.0" x2="600.7" y2="719.4" stroke="#222" stroke-width="0.77"/>
<path d="M598.4,671 L600.7,668 L603,671" fill="none" stroke="#222" stroke-width="0.68"/>
<line x1="600.7" y1="719.4" x2="663.5" y2="719.4" stroke="#222" stroke-width="0.77"/>
<circle cx="663.5" cy="719.4" r="1.5" fill="none" stroke="#222" stroke-width="0.8"/>
<line x1="589.5" y1="730.6" x2="612.3" y2="707.8" stroke="#222" stroke-width="0.94"/>
<line x1="613.5" y1="708.2" x2="613.5" y2="730.6" stroke="#333" stroke-width="0.85"/>
<line x1="619.5" y1="708.2" x2="619.5" y2="730.6" stroke="#333" stroke-width="0.85"/>
<line x1="625.7" y1="708.2" x2="625.7" y2="730.6" stroke="#333" stroke-width="0.85"/>
<line x1="632.4" y1="708.2" x2="632.4" y2="730.6" stroke="#333" stroke-width="0.85"/>
<line x1="638.6" y1="708.2" x2="638.6" y2="730.6" stroke="#333" stroke-width="0.85"/>
<line x1="644.5" y1="708.2" x2="644.5" y2="730.6" stroke="#333" stroke-width="0.85"/>
<line x1="651.0" y1="708.2" x2="651.0" y2="730.6" stroke="#333" stroke-width="0.85"/>
<line x1="657.6" y1="708.2" x2="657.6" y2="730.6" stroke="#333" stroke-width="0.85"/>
<line x1="663.5" y1="708.2" x2="663.5" y2="730.6" stroke="#333" stroke-width="0.85"/>
<line x1="611.3" y1="708.2" x2="666.7" y2="708.2" stroke="#555" stroke-width="0.85" stroke-dasharray="3 2"/>
<line x1="589.6" y1="730.8" x2="663.5" y2="730.8" stroke="#2a2a2a" stroke-width="0.85"/>
<line x1="589.6" y1="733.5" x2="663.5" y2="733.5" stroke="#2a2a2a" stroke-width="0.85"/>
<polyline points="611.3,707.8 611.3,659.6 666.7,659.6 666.7,739.3 663.5,739.3 663.5,706.2" fill="none" stroke="#2a2a2a" stroke-width="0.94"/>
<polyline points="614.2,706.2 614.2,662.3 663.7,662.3 663.7,706.2" fill="none" stroke="#222" stroke-width="1.27"/>
<line x1="614.2" y1="706.2" x2="663.7" y2="706.2" stroke="#888" stroke-width="1.02" stroke-dasharray="3 2"/>
<line x1="614.2" y1="662.3" x2="663.7" y2="706.2" stroke="#333" stroke-width="0.85" stroke-dasharray="4 2.5"/>
<line x1="663.7" y1="662.3" x2="614.2" y2="706.2" stroke="#333" stroke-width="0.85" stroke-dasharray="4 2.5"/>
<line x1="669.3" y1="739.1" x2="818.6" y2="739.1" stroke="#222" stroke-width="1.70"/>
<rect x="669.5" y="577.0" width="152.5" height="69.2" fill="none" stroke="#222" stroke-width="1.36"/>
<rect x="671.5" y="579.0" width="148.5" height="65.2" fill="none" stroke="#333" stroke-width="0.85"/>
<line x1="686.8" y1="579.0" x2="686.8" y2="645.2" stroke="#333" stroke-width="1.10"/>
<line x1="701.2" y1="579.0" x2="701.2" y2="645.2" stroke="#333" stroke-width="1.10"/>
<line x1="716.2" y1="579.0" x2="716.2" y2="645.2" stroke="#333" stroke-width="1.10"/>
<line x1="731.4" y1="579.0" x2="731.4" y2="645.2" stroke="#333" stroke-width="1.10"/>
<line x1="746.4" y1="579.0" x2="746.4" y2="645.2" stroke="#333" stroke-width="1.10"/>
<line x1="761.8" y1="579.0" x2="761.8" y2="645.2" stroke="#333" stroke-width="1.10"/>
<line x1="777.2" y1="579.0" x2="777.2" y2="645.2" stroke="#333" stroke-width="1.10"/>
<line x1="792.6" y1="579.0" x2="792.6" y2="645.2" stroke="#333" stroke-width="1.10"/>
<line x1="806.1" y1="579.0" x2="806.1" y2="645.2" stroke="#333" stroke-width="1.10"/>
<rect x="808.0" y="614.4" width="11.6" height="11.6" fill="none" stroke="#2a2a2a" stroke-width="0.94"/>
<line x1="806.1" y1="607.7" x2="822.0" y2="607.7" stroke="#333" stroke-width="0.85"/>
<polyline points="806.1,646.0 806.1,677.0 822.0,677.0" fill="none" stroke="#666" stroke-width="0.77"/>
<line x1="821.5" y1="646.0" x2="821.5" y2="738.9" stroke="#2a2a2a" stroke-width="0.94"/>
<line x1="824.4" y1="471.9" x2="824.4" y2="738.9" stroke="#2a2a2a" stroke-width="0.94"/>
<rect x="825.0" y="513.9" width="84.6" height="132.8" fill="none" stroke="#2a2a2a" stroke-width="0.94"/>
<line x1="825.0" y1="529.0" x2="908.6" y2="529.0" stroke="#333" stroke-width="1.19"/>
<line x1="825.0" y1="543.2" x2="908.6" y2="543.2" stroke="#333" stroke-width="1.19"/>
<line x1="825.0" y1="558.1" x2="908.6" y2="558.1" stroke="#333" stroke-width="1.19"/>
<line x1="825.0" y1="572.7" x2="908.6" y2="572.7" stroke="#333" stroke-width="1.19"/>
<line x1="825.0" y1="587.2" x2="908.6" y2="587.2" stroke="#333" stroke-width="1.19"/>
<line x1="825.0" y1="601.8" x2="908.6" y2="601.8" stroke="#333" stroke-width="1.19"/>
<line x1="825.0" y1="616.5" x2="908.6" y2="616.5" stroke="#333" stroke-width="1.19"/>
<line x1="825.0" y1="631.4" x2="908.6" y2="631.4" stroke="#333" stroke-width="1.19"/>
<line x1="825.0" y1="645.2" x2="908.0" y2="645.2" stroke="#2a2a2a" stroke-width="0.94"/>
<line x1="825.0" y1="647.2" x2="908.0" y2="647.2" stroke="#2a2a2a" stroke-width="0.94"/>
<line x1="909.4" y1="499.0" x2="909.4" y2="694.0" stroke="#666" stroke-width="2.21"/>
<line x1="910.3" y1="694.0" x2="910.3" y2="739.6" stroke="#2a2a2a" stroke-width="0.94"/>
<line x1="910.3" y1="507.6" x2="932.1" y2="507.6" stroke="#333" stroke-width="0.77"/>
<line x1="910.3" y1="513.9" x2="932.1" y2="513.9" stroke="#333" stroke-width="0.77"/>
<line x1="910.3" y1="520.2" x2="932.1" y2="520.2" stroke="#333" stroke-width="0.77"/>
<line x1="910.3" y1="526.5" x2="932.1" y2="526.5" stroke="#333" stroke-width="0.77"/>
<line x1="910.3" y1="532.8" x2="932.1" y2="532.8" stroke="#333" stroke-width="0.77"/>
<line x1="910.3" y1="539.1" x2="932.1" y2="539.1" stroke="#333" stroke-width="0.77"/>
<line x1="910.3" y1="545.4" x2="932.1" y2="545.4" stroke="#333" stroke-width="0.77"/>
<line x1="910.3" y1="551.7" x2="932.1" y2="551.7" stroke="#333" stroke-width="0.77"/>
<line x1="910.3" y1="558.0" x2="932.1" y2="558.0" stroke="#333" stroke-width="0.77"/>
<line x1="910.3" y1="564.3" x2="932.1" y2="564.3" stroke="#333" stroke-width="0.77"/>
<line x1="910.3" y1="570.6" x2="932.1" y2="570.6" stroke="#333" stroke-width="0.77"/>
<line x1="910.3" y1="576.9" x2="932.1" y2="576.9" stroke="#333" stroke-width="0.77"/>
<line x1="910.3" y1="583.2" x2="932.1" y2="583.2" stroke="#333" stroke-width="0.77"/>
<line x1="910.3" y1="589.5" x2="932.1" y2="589.5" stroke="#333" stroke-width="0.77"/>
<line x1="910.3" y1="595.8" x2="932.1" y2="595.8" stroke="#333" stroke-width="0.77"/>
<line x1="910.3" y1="602.1" x2="932.1" y2="602.1" stroke="#333" stroke-width="0.77"/>
<line x1="910.3" y1="608.4" x2="932.1" y2="608.4" stroke="#333" stroke-width="0.77"/>
<line x1="921.4" y1="502.0" x2="921.4" y2="608.0" stroke="#222" stroke-width="0.77"/>
<circle cx="921.4" cy="608" r="1.6" fill="none" stroke="#222" stroke-width="0.8"/>
<path d="M919,505 L921.4,502 L923.8,505" fill="none" stroke="#222" stroke-width="0.68"/>
<rect x="824.4" y="693.9" width="85.8" height="45.0" fill="none" stroke="#2a2a2a" stroke-width="0.94"/>
<line x1="825.0" y1="694.0" x2="910.0" y2="694.0" stroke="#222" stroke-width="1.70"/>
<line x1="826.0" y1="696.0" x2="904.8" y2="733.7" stroke="#333" stroke-width="0.77" stroke-dasharray="4 3"/>
<line x1="904.8" y1="696.0" x2="826.0" y2="733.7" stroke="#333" stroke-width="0.77" stroke-dasharray="4 3"/>
<line x1="904.8" y1="696.0" x2="904.8" y2="733.7" stroke="#555" stroke-width="0.68"/>
<line x1="826.0" y1="733.7" x2="904.8" y2="733.7" stroke="#555" stroke-width="0.68"/>
<polyline points="963.6,292.6 1006.4,292.6 1006.4,252.6 1490.3,252.6 1490.3,276.6" fill="none" stroke="#2a2a2a" stroke-width="1.02"/>
<polyline points="970.7,345.0 970.7,295.0 1009.6,295.0 1009.6,254.8 1487.5,254.8 1487.5,279.4" fill="none" stroke="#2a2a2a" stroke-width="0.94"/>
<polyline points="967.7,347.4 1024.3,347.4 1024.3,429.3" fill="none" stroke="#2a2a2a" stroke-width="0.94"/>
<polyline points="970.7,345.0 1027.0,345.0 1027.0,429.3" fill="none" stroke="#2a2a2a" stroke-width="0.94"/>
<rect x="1055.4" y="259.6" width="24.9" height="10.5" fill="none" stroke="#444" stroke-width="0.77"/>
<line x1="1053.2" y1="270.2" x2="1082.8" y2="270.2" stroke="#333" stroke-width="0.85"/>
<polyline points="1053.2,270.2 1053.2,275.6 1057.0,275.6" fill="none" stroke="#444" stroke-width="0.77"/>
<polyline points="1082.8,270.2 1082.8,308.7 1079.0,308.7" fill="none" stroke="#666" stroke-width="0.85"/>
<rect x="1057.0" y="273.2" width="22.0" height="37.4" fill="#fff" stroke="#333" stroke-width="1.44"/>
<line x1="1057.0" y1="273.6" x2="1057.0" y2="310.2" stroke="#888" stroke-width="1.02"/>
<rect x="1100.3" y="259.6" width="24.9" height="10.5" fill="none" stroke="#444" stroke-width="0.77"/>
<line x1="1098.1" y1="270.2" x2="1127.7" y2="270.2" stroke="#333" stroke-width="0.85"/>
<polyline points="1098.1,270.2 1098.1,275.6 1101.9,275.6" fill="none" stroke="#444" stroke-width="0.77"/>
<polyline points="1127.7,270.2 1127.7,308.7 1123.9,308.7" fill="none" stroke="#666" stroke-width="0.85"/>
<rect x="1101.9" y="273.2" width="22.0" height="37.4" fill="#fff" stroke="#333" stroke-width="1.44"/>
<line x1="1101.9" y1="273.6" x2="1101.9" y2="310.2" stroke="#888" stroke-width="1.02"/>
<rect x="1145.2" y="259.6" width="24.9" height="10.5" fill="none" stroke="#444" stroke-width="0.77"/>
<line x1="1143.0" y1="270.2" x2="1172.6" y2="270.2" stroke="#333" stroke-width="0.85"/>
<polyline points="1143.0,270.2 1143.0,275.6 1146.8,275.6" fill="none" stroke="#444" stroke-width="0.77"/>
<polyline points="1172.6,270.2 1172.6,308.7 1168.8,308.7" fill="none" stroke="#666" stroke-width="0.85"/>
<rect x="1146.8" y="273.2" width="22.0" height="37.4" fill="#fff" stroke="#333" stroke-width="1.44"/>
<line x1="1146.8" y1="273.6" x2="1146.8" y2="310.2" stroke="#888" stroke-width="1.02"/>
<rect x="1190.0" y="259.6" width="24.9" height="10.5" fill="none" stroke="#444" stroke-width="0.77"/>
<line x1="1187.8" y1="270.2" x2="1217.4" y2="270.2" stroke="#333" stroke-width="0.85"/>
<polyline points="1187.8,270.2 1187.8,275.6 1191.6,275.6" fill="none" stroke="#444" stroke-width="0.77"/>
<polyline points="1217.4,270.2 1217.4,308.7 1213.6,308.7" fill="none" stroke="#666" stroke-width="0.85"/>
<rect x="1191.6" y="273.2" width="22.0" height="37.4" fill="#fff" stroke="#333" stroke-width="1.44"/>
<line x1="1191.6" y1="273.6" x2="1191.6" y2="310.2" stroke="#888" stroke-width="1.02"/>
<rect x="1234.9" y="259.6" width="24.9" height="10.5" fill="none" stroke="#444" stroke-width="0.77"/>
<line x1="1232.7" y1="270.2" x2="1262.3" y2="270.2" stroke="#333" stroke-width="0.85"/>
<polyline points="1232.7,270.2 1232.7,275.6 1236.5,275.6" fill="none" stroke="#444" stroke-width="0.77"/>
<polyline points="1262.3,270.2 1262.3,308.7 1258.5,308.7" fill="none" stroke="#666" stroke-width="0.85"/>
<rect x="1236.5" y="273.2" width="22.0" height="37.4" fill="#fff" stroke="#333" stroke-width="1.44"/>
<line x1="1236.5" y1="273.6" x2="1236.5" y2="310.2" stroke="#888" stroke-width="1.02"/>
<rect x="1279.8" y="259.6" width="24.9" height="10.5" fill="none" stroke="#444" stroke-width="0.77"/>
<line x1="1277.6" y1="270.2" x2="1307.2" y2="270.2" stroke="#333" stroke-width="0.85"/>
<polyline points="1277.6,270.2 1277.6,275.6 1281.4,275.6" fill="none" stroke="#444" stroke-width="0.77"/>
<polyline points="1307.2,270.2 1307.2,308.7 1303.4,308.7" fill="none" stroke="#666" stroke-width="0.85"/>
<rect x="1281.4" y="273.2" width="22.0" height="37.4" fill="#fff" stroke="#333" stroke-width="1.44"/>
<line x1="1281.4" y1="273.6" x2="1281.4" y2="310.2" stroke="#888" stroke-width="1.02"/>
<line x1="1046.4" y1="259.6" x2="1046.4" y2="326.9" stroke="#111" stroke-width="1.23" stroke-dasharray="5.5 3.2"/>
<line x1="1091.3" y1="259.6" x2="1091.3" y2="326.9" stroke="#111" stroke-width="1.23" stroke-dasharray="5.5 3.2"/>
<line x1="1136.2" y1="259.6" x2="1136.2" y2="326.9" stroke="#111" stroke-width="1.23" stroke-dasharray="5.5 3.2"/>
<line x1="1181.0" y1="259.6" x2="1181.0" y2="326.9" stroke="#111" stroke-width="1.23" stroke-dasharray="5.5 3.2"/>
<line x1="1225.9" y1="259.6" x2="1225.9" y2="326.9" stroke="#111" stroke-width="1.23" stroke-dasharray="5.5 3.2"/>
<line x1="1270.8" y1="259.6" x2="1270.8" y2="326.9" stroke="#111" stroke-width="1.23" stroke-dasharray="5.5 3.2"/>
<line x1="1315.7" y1="259.6" x2="1315.7" y2="326.9" stroke="#111" stroke-width="1.23" stroke-dasharray="5.5 3.2"/>
<line x1="1046.4" y1="259.6" x2="1315.7" y2="259.6" stroke="#111" stroke-width="1.23" stroke-dasharray="5.5 3.2"/>
<line x1="1046.4" y1="326.9" x2="1315.7" y2="326.9" stroke="#111" stroke-width="1.23" stroke-dasharray="5.5 3.2"/>
<rect x="1055.9" y="341.4" width="24.9" height="10.5" fill="none" stroke="#444" stroke-width="0.77"/>
<line x1="1053.7" y1="352.0" x2="1083.3" y2="352.0" stroke="#333" stroke-width="0.85"/>
<polyline points="1053.7,352.0 1053.7,357.4 1057.5,357.4" fill="none" stroke="#444" stroke-width="0.77"/>
<polyline points="1083.3,352.0 1083.3,390.5 1079.5,390.5" fill="none" stroke="#666" stroke-width="0.85"/>
<rect x="1057.5" y="355.0" width="22.0" height="37.4" fill="#fff" stroke="#333" stroke-width="1.44"/>
<line x1="1057.5" y1="355.4" x2="1057.5" y2="392.0" stroke="#888" stroke-width="1.02"/>
<rect x="1100.8" y="341.4" width="24.9" height="10.5" fill="none" stroke="#444" stroke-width="0.77"/>
<line x1="1098.6" y1="352.0" x2="1128.2" y2="352.0" stroke="#333" stroke-width="0.85"/>
<polyline points="1098.6,352.0 1098.6,357.4 1102.4,357.4" fill="none" stroke="#444" stroke-width="0.77"/>
<polyline points="1128.2,352.0 1128.2,390.5 1124.4,390.5" fill="none" stroke="#666" stroke-width="0.85"/>
<rect x="1102.4" y="355.0" width="22.0" height="37.4" fill="#fff" stroke="#333" stroke-width="1.44"/>
<line x1="1102.4" y1="355.4" x2="1102.4" y2="392.0" stroke="#888" stroke-width="1.02"/>
<line x1="1046.9" y1="341.4" x2="1046.9" y2="409.0" stroke="#111" stroke-width="1.23" stroke-dasharray="5.5 3.2"/>
<line x1="1091.8" y1="341.4" x2="1091.8" y2="409.0" stroke="#111" stroke-width="1.23" stroke-dasharray="5.5 3.2"/>
<line x1="1136.7" y1="341.4" x2="1136.7" y2="409.0" stroke="#111" stroke-width="1.23" stroke-dasharray="5.5 3.2"/>
<line x1="1046.9" y1="341.4" x2="1136.7" y2="341.4" stroke="#111" stroke-width="1.23" stroke-dasharray="5.5 3.2"/>
<line x1="1046.9" y1="409.0" x2="1136.7" y2="409.0" stroke="#111" stroke-width="1.23" stroke-dasharray="5.5 3.2"/>
<rect x="1176.4" y="341.8" width="55.9" height="53.3" fill="none" stroke="#555" stroke-width="1.02"/>
<rect x="1180.7" y="346.6" width="46.9" height="44.9" fill="url(#spk)" stroke="#222" stroke-width="1.36"/>
<line x1="1204.3" y1="346.6" x2="1204.3" y2="391.5" stroke="#333" stroke-width="0.94"/>
<circle cx="1191.5" cy="374.5" r="3.8" fill="#fff" stroke="#111" stroke-width="1"/>
<path d="M1191.5,374.5 L1191.5,370.7 A3.8,3.8 0 0 1 1195.3,374.5 Z M1191.5,374.5 L1191.5,378.3 A3.8,3.8 0 0 1 1187.7,374.5 Z" fill="#111"/>
<text x="1197" y="372.5" font-size="7.5" fill="#111" text-anchor="start" style="font-weight:bold" >+155.70</text>
<line x1="1195.5" y1="376.0" x2="1227.0" y2="376.0" stroke="#666" stroke-width="0.42" stroke-dasharray="2 1.5"/>
<circle cx="1191.5" cy="413" r="3.8" fill="#fff" stroke="#111" stroke-width="1"/>
<path d="M1191.5,413 L1191.5,409.2 A3.8,3.8 0 0 1 1195.3,413 Z M1191.5,413 L1191.5,416.8 A3.8,3.8 0 0 1 1187.7,413 Z" fill="#111"/>
<text x="1197" y="410.5" font-size="7.5" fill="#111" text-anchor="start" style="font-weight:bold" >+154.80</text>
<line x1="1195.5" y1="414.5" x2="1227.0" y2="414.5" stroke="#666" stroke-width="0.42" stroke-dasharray="2 1.5"/>
<text x="1260.6" y="374.6" font-size="10.4" fill="#111" text-anchor="start" style="stroke:#111;stroke-width:0.35" textLength="52" lengthAdjust="spacingAndGlyphs">KTHPIO A</text>
<line x1="1439.2" y1="254.8" x2="1439.2" y2="339.6" stroke="#2a2a2a" stroke-width="0.94"/>
<line x1="1441.4" y1="254.8" x2="1441.4" y2="339.6" stroke="#2a2a2a" stroke-width="0.94"/>
<rect x="1337.0" y="339.6" width="135.0" height="93.7" fill="none" stroke="#222" stroke-width="1.36"/>
<rect x="1339.4" y="342.0" width="131.3" height="90.3" fill="none" stroke="#2a2a2a" stroke-width="0.94"/>
<line x1="1353.5" y1="342.0" x2="1353.5" y2="432.3" stroke="#333" stroke-width="1.19"/>
<line x1="1368.2" y1="342.0" x2="1368.2" y2="432.3" stroke="#333" stroke-width="1.19"/>
<line x1="1383.0" y1="342.0" x2="1383.0" y2="432.3" stroke="#333" stroke-width="1.19"/>
<line x1="1397.6" y1="342.0" x2="1397.6" y2="432.3" stroke="#333" stroke-width="1.19"/>
<line x1="1412.3" y1="342.0" x2="1412.3" y2="432.3" stroke="#333" stroke-width="1.19"/>
<line x1="1426.8" y1="342.0" x2="1426.8" y2="432.3" stroke="#333" stroke-width="1.19"/>
<line x1="1441.4" y1="342.0" x2="1441.4" y2="432.3" stroke="#333" stroke-width="1.19"/>
<line x1="1455.9" y1="342.0" x2="1455.9" y2="432.3" stroke="#333" stroke-width="1.19"/>
<polyline points="1490.3,276.6 1566.4,276.6 1561.3,335.5" fill="none" stroke="#2a2a2a" stroke-width="1.02"/>
<polyline points="1487.5,279.4 1563.6,279.4 1559.4,335.0" fill="none" stroke="#2a2a2a" stroke-width="0.94"/>
<line x1="1493.6" y1="279.4" x2="1493.6" y2="301.4" stroke="#333" stroke-width="0.85"/>
<line x1="1499.2" y1="279.4" x2="1499.2" y2="301.4" stroke="#333" stroke-width="0.85"/>
<line x1="1504.8" y1="279.4" x2="1504.8" y2="301.4" stroke="#333" stroke-width="0.85"/>
<line x1="1510.4" y1="279.4" x2="1510.4" y2="301.4" stroke="#333" stroke-width="0.85"/>
<line x1="1515.5" y1="279.4" x2="1515.5" y2="301.4" stroke="#333" stroke-width="0.85"/>
<line x1="1521.6" y1="279.4" x2="1521.6" y2="301.4" stroke="#333" stroke-width="0.85"/>
<line x1="1527.2" y1="279.4" x2="1527.2" y2="301.4" stroke="#333" stroke-width="0.85"/>
<line x1="1532.8" y1="279.4" x2="1532.8" y2="301.4" stroke="#333" stroke-width="0.85"/>
<line x1="1538.4" y1="279.4" x2="1538.4" y2="301.4" stroke="#333" stroke-width="0.85"/>
<line x1="1487.5" y1="290.4" x2="1546.8" y2="290.4" stroke="#222" stroke-width="0.77"/>
<path d="M1491,288 L1488,290.4 L1491,292.8" fill="none" stroke="#222" stroke-width="0.68"/>
<line x1="1540.7" y1="301.4" x2="1552.0" y2="279.4" stroke="#222" stroke-width="0.77"/>
<line x1="1540.7" y1="301.4" x2="1563.2" y2="290.2" stroke="#222" stroke-width="0.77"/>
<polyline points="1546.8,290.4 1552.4,296.3 1552.4,333.0" fill="none" stroke="#222" stroke-width="0.77"/>
<line x1="1539.3" y1="305.1" x2="1561.0" y2="305.1" stroke="#333" stroke-width="0.85"/>
<line x1="1539.3" y1="310.7" x2="1561.0" y2="310.7" stroke="#333" stroke-width="0.85"/>
<line x1="1539.3" y1="316.4" x2="1561.0" y2="316.4" stroke="#333" stroke-width="0.85"/>
<line x1="1539.3" y1="321.5" x2="1561.0" y2="321.5" stroke="#333" stroke-width="0.85"/>
<line x1="1539.3" y1="327.6" x2="1561.0" y2="327.6" stroke="#333" stroke-width="0.85"/>
<line x1="1539.3" y1="333.2" x2="1561.0" y2="333.2" stroke="#333" stroke-width="0.85"/>
<circle cx="1551" cy="333" r="1.6" fill="none" stroke="#222" stroke-width="0.8"/>
<line x1="1487.5" y1="301.4" x2="1540.7" y2="301.4" stroke="#222" stroke-width="0.85"/>
<polyline points="1487.5,279.4 1487.5,304.2 1528.6,304.2 1528.6,434.5" fill="none" stroke="#2a2a2a" stroke-width="0.94"/>
<polyline points="1531.4,434.5 1531.4,307.2 1541.2,307.2 1541.2,301.4" fill="none" stroke="#2a2a2a" stroke-width="0.94"/>
<line x1="1472.0" y1="432.4" x2="1528.6" y2="432.4" stroke="#2a2a2a" stroke-width="0.94"/>
<line x1="1472.0" y1="434.5" x2="1531.4" y2="434.5" stroke="#2a2a2a" stroke-width="0.94"/>
<line x1="1000.0" y1="429.3" x2="1339.3" y2="429.3" stroke="#2a2a2a" stroke-width="0.94"/>
<line x1="1002.6" y1="431.4" x2="1176.4" y2="431.4" stroke="#2a2a2a" stroke-width="0.94"/>
<line x1="1000.0" y1="429.3" x2="1000.0" y2="568.9" stroke="#2a2a2a" stroke-width="1.02"/>
<line x1="1002.6" y1="431.4" x2="1002.6" y2="568.9" stroke="#2a2a2a" stroke-width="0.94"/>
<line x1="1002.6" y1="460.7" x2="1024.3" y2="460.7" stroke="#333" stroke-width="0.85"/>
<line x1="1002.6" y1="467.0" x2="1024.3" y2="467.0" stroke="#333" stroke-width="0.85"/>
<line x1="1002.6" y1="473.2" x2="1024.3" y2="473.2" stroke="#333" stroke-width="0.85"/>
<line x1="1002.6" y1="479.5" x2="1024.3" y2="479.5" stroke="#333" stroke-width="0.85"/>
<line x1="1002.6" y1="485.7" x2="1024.3" y2="485.7" stroke="#333" stroke-width="0.85"/>
<line x1="1002.6" y1="492.0" x2="1024.3" y2="492.0" stroke="#333" stroke-width="0.85"/>
<line x1="1002.6" y1="498.3" x2="1024.3" y2="498.3" stroke="#333" stroke-width="0.85"/>
<line x1="1002.6" y1="504.5" x2="1024.3" y2="504.5" stroke="#333" stroke-width="0.85"/>
<line x1="1002.6" y1="510.8" x2="1024.3" y2="510.8" stroke="#333" stroke-width="0.85"/>
<line x1="1002.6" y1="517.0" x2="1024.3" y2="517.0" stroke="#333" stroke-width="0.85"/>
<line x1="1002.6" y1="523.3" x2="1024.3" y2="523.3" stroke="#333" stroke-width="0.85"/>
<line x1="1002.6" y1="529.5" x2="1024.3" y2="529.5" stroke="#333" stroke-width="0.85"/>
<line x1="1002.6" y1="535.8" x2="1024.3" y2="535.8" stroke="#333" stroke-width="0.85"/>
<line x1="1002.6" y1="542.1" x2="1024.3" y2="542.1" stroke="#333" stroke-width="0.85"/>
<line x1="1002.6" y1="548.3" x2="1024.3" y2="548.3" stroke="#333" stroke-width="0.85"/>
<line x1="1002.6" y1="554.6" x2="1024.3" y2="554.6" stroke="#333" stroke-width="0.85"/>
<line x1="1002.6" y1="560.8" x2="1024.3" y2="560.8" stroke="#333" stroke-width="0.85"/>
<line x1="1002.6" y1="567.1" x2="1024.3" y2="567.1" stroke="#333" stroke-width="0.85"/>
<line x1="1013.6" y1="458.0" x2="1013.6" y2="567.1" stroke="#222" stroke-width="0.77"/>
<path d="M1011.2,461 L1013.6,458 L1016,461" fill="none" stroke="#222" stroke-width="0.68"/>
<circle cx="1013.6" cy="567.5" r="1.6" fill="none" stroke="#222" stroke-width="0.8"/>
<rect x="1025.0" y="431.4" width="90.7" height="132.9" fill="none" stroke="#2a2a2a" stroke-width="0.94"/>
<rect x="1026.9" y="431.4" width="87.4" height="131.2" fill="none" stroke="#2a2a2a" stroke-width="0.94"/>
<line x1="1026.9" y1="445.7" x2="1114.3" y2="445.7" stroke="#333" stroke-width="1.19"/>
<line x1="1026.9" y1="460.0" x2="1114.3" y2="460.0" stroke="#333" stroke-width="1.19"/>
<line x1="1026.9" y1="475.0" x2="1114.3" y2="475.0" stroke="#333" stroke-width="1.19"/>
<line x1="1026.9" y1="489.6" x2="1114.3" y2="489.6" stroke="#333" stroke-width="1.19"/>
<line x1="1026.9" y1="503.9" x2="1114.3" y2="503.9" stroke="#333" stroke-width="1.19"/>
<line x1="1026.9" y1="518.9" x2="1114.3" y2="518.9" stroke="#333" stroke-width="1.19"/>
<line x1="1026.9" y1="533.6" x2="1114.3" y2="533.6" stroke="#333" stroke-width="1.19"/>
<line x1="1026.9" y1="548.1" x2="1114.3" y2="548.1" stroke="#333" stroke-width="1.19"/>
<line x1="1025.1" y1="564.0" x2="1025.1" y2="621.6" stroke="#2a2a2a" stroke-width="0.94"/>
<line x1="1027.3" y1="564.0" x2="1027.3" y2="621.6" stroke="#2a2a2a" stroke-width="0.94"/>
<line x1="1027.3" y1="619.7" x2="1173.7" y2="619.7" stroke="#222" stroke-width="1.70"/>
<line x1="1027.3" y1="621.6" x2="1176.8" y2="621.6" stroke="#777" stroke-width="0.85"/>
<polyline points="1115.7,460.0 1140.0,460.0 1140.0,431.4" fill="none" stroke="#444" stroke-width="0.85"/>
<polyline points="1160.3,431.4 1160.3,499.3 1176.4,499.3" fill="none" stroke="#444" stroke-width="0.85"/>
<rect x="1163.1" y="482.9" width="11.2" height="10.7" fill="none" stroke="#2a2a2a" stroke-width="0.94"/>
<rect x="1113.6" y="549.3" width="62.8" height="24.3" fill="none" stroke="#2a2a2a" stroke-width="0.94"/>
<rect x="1116.4" y="552.1" width="60.0" height="19.3" fill="none" stroke="#333" stroke-width="0.85"/>
<line x1="1116.4" y1="552.1" x2="1176.4" y2="571.4" stroke="#333" stroke-width="0.77"/>
<line x1="1176.4" y1="552.1" x2="1116.4" y2="571.4" stroke="#333" stroke-width="0.77"/>
<line x1="1176.4" y1="429.3" x2="1176.4" y2="621.6" stroke="#2a2a2a" stroke-width="0.94"/>
<line x1="1178.3" y1="568.9" x2="1178.3" y2="670.4" stroke="#2a2a2a" stroke-width="0.94"/>
<line x1="1181.1" y1="569.5" x2="1181.1" y2="670.4" stroke="#2a2a2a" stroke-width="0.94"/>
<line x1="1339.3" y1="429.3" x2="1339.3" y2="534.9" stroke="#2a2a2a" stroke-width="0.94"/>
<line x1="1176.4" y1="534.9" x2="1339.3" y2="534.9" stroke="#2a2a2a" stroke-width="0.94"/>
<rect x="1181.5" y="434.7" width="152.9" height="95.7" fill="url(#spk)" stroke="#555" stroke-width="0.94"/>
<rect x="1190.5" y="437.2" width="134.9" height="90.2" fill="none" stroke="#222" stroke-width="1.10"/>
<line x1="1212.9" y1="437.2" x2="1212.9" y2="527.4" stroke="#222" stroke-width="1.02"/>
<line x1="1235.6" y1="437.2" x2="1235.6" y2="527.4" stroke="#222" stroke-width="1.02"/>
<line x1="1258.1" y1="437.2" x2="1258.1" y2="527.4" stroke="#222" stroke-width="1.02"/>
<line x1="1280.5" y1="437.2" x2="1280.5" y2="527.4" stroke="#222" stroke-width="1.02"/>
<line x1="1302.7" y1="437.2" x2="1302.7" y2="527.4" stroke="#222" stroke-width="1.02"/>
<line x1="1190.5" y1="482.6" x2="1325.4" y2="482.6" stroke="#222" stroke-width="0.94"/>
<circle cx="1248" cy="514" r="3.8" fill="#fff" stroke="#111" stroke-width="1"/>
<path d="M1248,514 L1248,510.2 A3.8,3.8 0 0 1 1251.8,514 Z M1248,514 L1248,517.8 A3.8,3.8 0 0 1 1244.2,514 Z" fill="#111"/>
<text x="1255" y="512" font-size="7.5" fill="#111" text-anchor="start" style="font-weight:bold" >+157.20</text>
<line x1="1252.0" y1="515.5" x2="1285.0" y2="515.5" stroke="#666" stroke-width="0.42" stroke-dasharray="2 1.5"/>
<rect x="1181.5" y="535.8" width="93.6" height="134.6" fill="none" stroke="#2a2a2a" stroke-width="0.94"/>
<rect x="1183.5" y="537.8" width="90.1" height="129.6" fill="none" stroke="#2a2a2a" stroke-width="0.94"/>
<line x1="1183.5" y1="551.7" x2="1273.6" y2="551.7" stroke="#333" stroke-width="1.19"/>
<line x1="1183.5" y1="566.5" x2="1273.6" y2="566.5" stroke="#333" stroke-width="1.19"/>
<line x1="1183.5" y1="580.8" x2="1273.6" y2="580.8" stroke="#333" stroke-width="1.19"/>
<line x1="1183.5" y1="595.6" x2="1273.6" y2="595.6" stroke="#333" stroke-width="1.19"/>
<line x1="1183.5" y1="610.0" x2="1273.6" y2="610.0" stroke="#333" stroke-width="1.19"/>
<line x1="1183.5" y1="624.9" x2="1273.6" y2="624.9" stroke="#333" stroke-width="1.19"/>
<line x1="1183.5" y1="639.3" x2="1273.6" y2="639.3" stroke="#333" stroke-width="1.19"/>
<line x1="1183.5" y1="654.2" x2="1273.6" y2="654.2" stroke="#333" stroke-width="1.19"/>
<polyline points="1275.1,670.4 1337.5,670.4 1337.5,621.0 1410.7,621.0" fill="none" stroke="#2a2a2a" stroke-width="0.94"/>
<polyline points="1275.1,667.4 1335.5,667.4 1335.5,618.5 1413.3,618.5" fill="none" stroke="#2a2a2a" stroke-width="0.94"/>
<line x1="1339.4" y1="433.9" x2="1413.7" y2="433.9" stroke="#2a2a2a" stroke-width="0.85"/>
<line x1="1339.3" y1="480.3" x2="1413.7" y2="480.3" stroke="#555" stroke-width="0.77"/>
<line x1="1339.3" y1="495.3" x2="1413.7" y2="495.3" stroke="#555" stroke-width="0.77"/>
<line x1="1339.3" y1="497.5" x2="1413.7" y2="497.5" stroke="#555" stroke-width="0.77"/>
<line x1="1339.3" y1="514.7" x2="1413.7" y2="514.7" stroke="#555" stroke-width="0.77"/>
<rect x="1396.9" y="483.3" width="11.2" height="11.2" fill="none" stroke="#2a2a2a" stroke-width="0.94"/>
<rect x="1396.9" y="499.5" width="11.2" height="11.9" fill="none" stroke="#2a2a2a" stroke-width="0.94"/>
<polyline points="1413.7,434.0 1413.7,520.7 1441.0,520.7 1441.0,646.7" fill="none" stroke="#2a2a2a" stroke-width="0.94"/>
<polyline points="1416.3,434.0 1416.3,518.5 1438.8,518.5 1438.8,646.7" fill="none" stroke="#2a2a2a" stroke-width="0.94"/>
<line x1="1413.3" y1="543.0" x2="1413.3" y2="621.0" stroke="#444" stroke-width="1.36"/>
<line x1="1414.7" y1="545.7" x2="1438.4" y2="545.7" stroke="#333" stroke-width="0.85"/>
<line x1="1414.7" y1="552.0" x2="1438.4" y2="552.0" stroke="#333" stroke-width="0.85"/>
<line x1="1414.7" y1="558.2" x2="1438.4" y2="558.2" stroke="#333" stroke-width="0.85"/>
<line x1="1414.7" y1="564.5" x2="1438.4" y2="564.5" stroke="#333" stroke-width="0.85"/>
<line x1="1414.7" y1="570.8" x2="1438.4" y2="570.8" stroke="#333" stroke-width="0.85"/>
<line x1="1414.7" y1="577.1" x2="1438.4" y2="577.1" stroke="#333" stroke-width="0.85"/>
<line x1="1414.7" y1="583.4" x2="1438.4" y2="583.4" stroke="#333" stroke-width="0.85"/>
<line x1="1414.7" y1="589.6" x2="1438.4" y2="589.6" stroke="#333" stroke-width="0.85"/>
<line x1="1414.7" y1="595.9" x2="1438.4" y2="595.9" stroke="#333" stroke-width="0.85"/>
<line x1="1414.7" y1="602.2" x2="1438.4" y2="602.2" stroke="#333" stroke-width="0.85"/>
<line x1="1414.7" y1="608.5" x2="1438.4" y2="608.5" stroke="#333" stroke-width="0.85"/>
<line x1="1414.7" y1="614.7" x2="1438.4" y2="614.7" stroke="#333" stroke-width="0.85"/>
<line x1="1414.7" y1="621.0" x2="1438.4" y2="621.0" stroke="#333" stroke-width="0.85"/>
<line x1="1426.8" y1="543.0" x2="1426.8" y2="621.0" stroke="#222" stroke-width="0.77"/>
<path d="M1424.4,547 L1426.8,544 L1429.2,547" fill="none" stroke="#222" stroke-width="0.68"/>
<line x1="1414.7" y1="620.9" x2="1438.4" y2="644.3" stroke="#222" stroke-width="0.77"/>
<line x1="1397.8" y1="621.0" x2="1397.8" y2="644.3" stroke="#333" stroke-width="0.85"/>
<line x1="1402.8" y1="621.0" x2="1402.8" y2="644.3" stroke="#333" stroke-width="0.85"/>
<line x1="1408.7" y1="621.0" x2="1408.7" y2="644.3" stroke="#333" stroke-width="0.85"/>
<line x1="1414.7" y1="621.0" x2="1414.7" y2="644.3" stroke="#333" stroke-width="0.85"/>
<line x1="1395.9" y1="646.7" x2="1441.0" y2="646.7" stroke="#2a2a2a" stroke-width="0.94"/>
<line x1="1395.9" y1="644.5" x2="1438.4" y2="644.5" stroke="#2a2a2a" stroke-width="0.77"/>
<line x1="1395.9" y1="621.0" x2="1395.9" y2="646.7" stroke="#2a2a2a" stroke-width="0.94"/>
<line x1="1397.8" y1="632.8" x2="1414.7" y2="632.8" stroke="#222" stroke-width="0.68"/>
<line x1="688.5" y1="94.4" x2="688.5" y2="104.4" stroke="#111" stroke-width="1.02"/>
<polygon points="685.7,94.2 685.7,104.6 680.0,99.4" fill="none" stroke="#111" stroke-width="0.85"/>
<text x="671.5" y="103.2" font-size="10" fill="#111" text-anchor="start" style="font-style:italic" >Γ</text>
<line x1="688.5" y1="1150.6" x2="688.5" y2="1160.6" stroke="#111" stroke-width="1.02"/>
<polygon points="685.7,1150.4 685.7,1160.8 680.0,1155.6" fill="none" stroke="#111" stroke-width="0.85"/>
<text x="671.5" y="1159.3999999999999" font-size="10" fill="#111" text-anchor="start" style="font-style:italic" >Γ</text>
<line x1="1130.5" y1="94.4" x2="1130.5" y2="104.4" stroke="#111" stroke-width="1.02"/>
<polygon points="1133.3,94.2 1133.3,104.6 1139.0,99.4" fill="none" stroke="#111" stroke-width="0.85"/>
<text x="1142.5" y="103.2" font-size="9" fill="#111" text-anchor="start" style="font-style:italic;font-weight:bold" >B</text>
<line x1="1130.5" y1="1150.6" x2="1130.5" y2="1160.6" stroke="#111" stroke-width="1.02"/>
<polygon points="1133.3,1150.4 1133.3,1160.8 1139.0,1155.6" fill="none" stroke="#111" stroke-width="0.85"/>
<text x="1142.5" y="1159.3999999999999" font-size="9" fill="#111" text-anchor="start" style="font-style:italic;font-weight:bold" >B</text>
<polygon points="120.7,415.0 131.0,415.0 125.8,409.5" fill="none" stroke="#111" stroke-width="0.94"/>
<text x="121.5" y="403.6" font-size="9" fill="#111" text-anchor="start" style="font-style:italic;font-weight:bold" >A</text>
<polygon points="1719.0,415.0 1729.3,415.0 1724.1,409.5" fill="none" stroke="#111" stroke-width="0.94"/>
<text x="1720" y="403.6" font-size="9" fill="#111" text-anchor="start" style="font-style:italic;font-weight:bold" >A</text>
<g style="mix-blend-mode:multiply">
<g fill="#b9b9b9">
<rect x="793.2" y="579.3" width="6.8" height="66.4"/>
<polygon points="830,579.3 838.5,579.3 800,622 800,612.5"/>
<polygon points="805.5,616 811,610.5 839,645.7 830.5,645.7"/>
<path fill-rule="evenodd" d="M910.7,580.2 H926 A33.8,33.8 0 0 1 926,647.8 H910.7 Z M917.9,587 H926 A27,27 0 0 1 926,641 H917.9 Z"/>
<rect x="969.6" y="579.7" width="7.4" height="68.1"/>
</g>
<path d="M1020.5,590 C1017,583 1011,581 1005.5,581 C996,581 990,587.5 990,596 C990,606 999,609.5 1007,612.5 C1016,616 1023,620.5 1023,629.5 C1023,639.5 1015,645.3 1006,645.3 C997,645.3 991,640 988.5,633" fill="none" stroke="#b9b9b9" stroke-width="7"/>
<g fill="#e8ddc6">
<polygon points="868.6,582 872,579.5 899.3,645.7 890,645.7 866.8,589"/>
<polygon points="849,633.2 852.5,626.5 880,626.5 877.5,633.2"/>
</g>
<g fill="none" stroke="#bdbdbd" stroke-width="2">
<path d="M851.1,669.2 H842 V687 H851.1 M842,678 H850"/>
<path d="M871.5,671.5 C870,669.5 868.5,669 867,669 C864,669 862.5,671 862.5,673.3 C862.5,676 865,677 867.5,678 C870.5,679 872,680.5 872,683 C872,685.8 870,687.2 867,687.2 C864.5,687.2 863,686 862,684"/>
<path d="M883.2,669.2 H893.3 M888.2,669.2 V688"/>
<path d="M901.8,688 L909.2,668.5 L916.6,688 M904.5,681 H914"/>
<path d="M925,669.2 H935.1 M930,669.2 V688"/>
<path d="M956.2,669.2 H947.1 V687 H956.2 M947.1,678 H955"/>
<path d="M977.2,671.5 C975.7,669.5 974.2,669 972.7,669 C969.7,669 968.2,671 968.2,673.3 C968.2,676 970.7,677 973.2,678 C976.2,679 977.7,680.5 977.7,683 C977.7,685.8 975.7,687.2 972.7,687.2 C970.2,687.2 968.7,686 967.7,684"/>
</g></g>
<circle cx="602.9" cy="590" r="3.8" fill="#fff" stroke="#111" stroke-width="1"/>
<path d="M602.9,590 L602.9,586.2 A3.8,3.8 0 0 1 606.6999999999999,590 Z M602.9,590 L602.9,593.8 A3.8,3.8 0 0 1 599.1,590 Z" fill="#111"/>
<text x="609.3" y="588.3" font-size="7.5" fill="#111" text-anchor="start" style="font-weight:bold" >+180.00</text>
<line x1="606.9" y1="591.5" x2="639.3" y2="591.5" stroke="#666" stroke-width="0.42" stroke-dasharray="2 1.5"/>
</svg></body></html>
